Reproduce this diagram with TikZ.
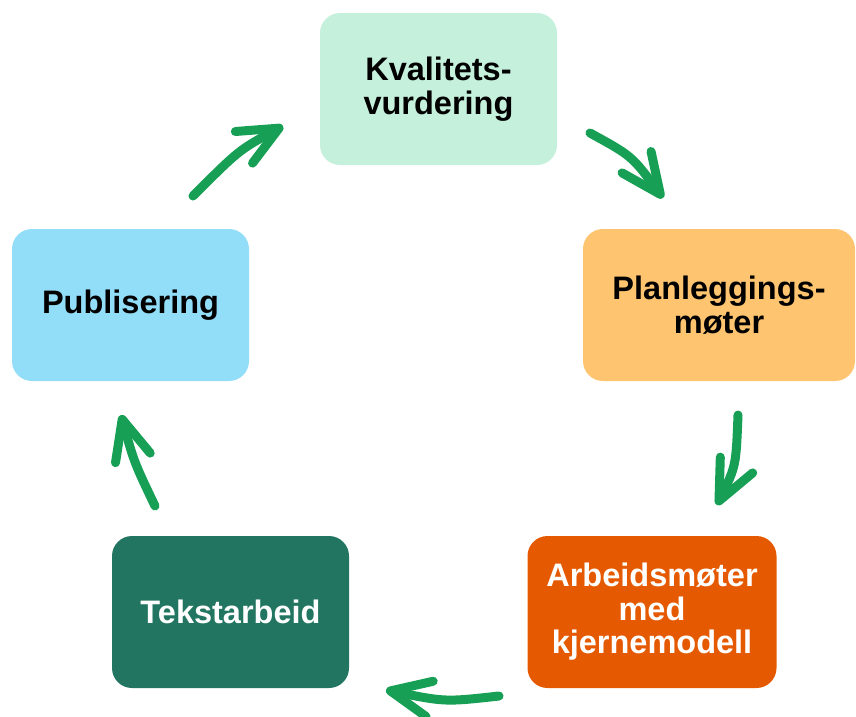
\documentclass[tikz,border=0pt]{standalone}
\usepackage{fontspec}
\setmainfont{Liberation Sans}
\usetikzlibrary{arrows.meta}
\definecolor{mint}{HTML}{C5F0DC}
\definecolor{peach}{HTML}{FEC46F}
\definecolor{sky}{HTML}{92DDF8}
\definecolor{deepteal}{HTML}{227560}
\definecolor{burnt}{HTML}{E55A00}
\definecolor{arrowgreen}{HTML}{17A055}
\tikzset{box/.style={rounded corners=20pt, minimum height=152pt, inner sep=0pt, align=center,
    font=\fontsize{32.5}{33.5}\selectfont\bfseries}}
\tikzset{cyc/.style={draw=arrowgreen, line width=9pt, line cap=round,
    -{Straight Barb[length=40pt,width=36pt,round]}}}

\begin{document}
\begin{tikzpicture}[x=1pt,y=-1pt]
    \useasboundingbox (0,0) rectangle (856,716);
    \node[box, fill=mint, minimum width=237pt] (kval) at (438.5,89) {Kvalitets-\\vurdering};
    \node[box, fill=peach, minimum width=272pt] (plan) at (719,305) {Planleggings-\\møter};
    \node[box, fill=burnt, text=white, minimum width=249pt] (arb) at (652,612) {Arbeidsmøter\\med\\kjernemodell};
    \node[box, fill=deepteal, text=white, minimum width=237pt] (tekst) at (230.5,612) {Tekstarbeid};
    \node[box, fill=sky, minimum width=237pt] (pub) at (130.5,305) {Publisering};
    % arrow ends between the boxes
    \coordinate (pubout) at (193,196);   \coordinate (kvalin) at (283,126);
    \coordinate (kvalout) at (590,133);  \coordinate (planin) at (663,198);
    \coordinate (planout) at (738,415);  \coordinate (arbin) at (717,505);
    \coordinate (arbout) at (499,696);   \coordinate (tekstin) at (386,690);
    \coordinate (tekstout) at (155,506); \coordinate (pubin) at (121,415);
    \draw[cyc] (pubout) .. controls (239,150) .. (kvalin);
    \draw[cyc] (kvalout) .. controls (632,156) .. (planin);
    \draw[cyc] (planout) .. controls (736,466) .. (arbin);
    \draw[cyc] (arbout) .. controls (445,702) .. (tekstin);
    \draw[cyc] (tekstout) .. controls (134,462) .. (pubin);
\end{tikzpicture}
\end{document}
